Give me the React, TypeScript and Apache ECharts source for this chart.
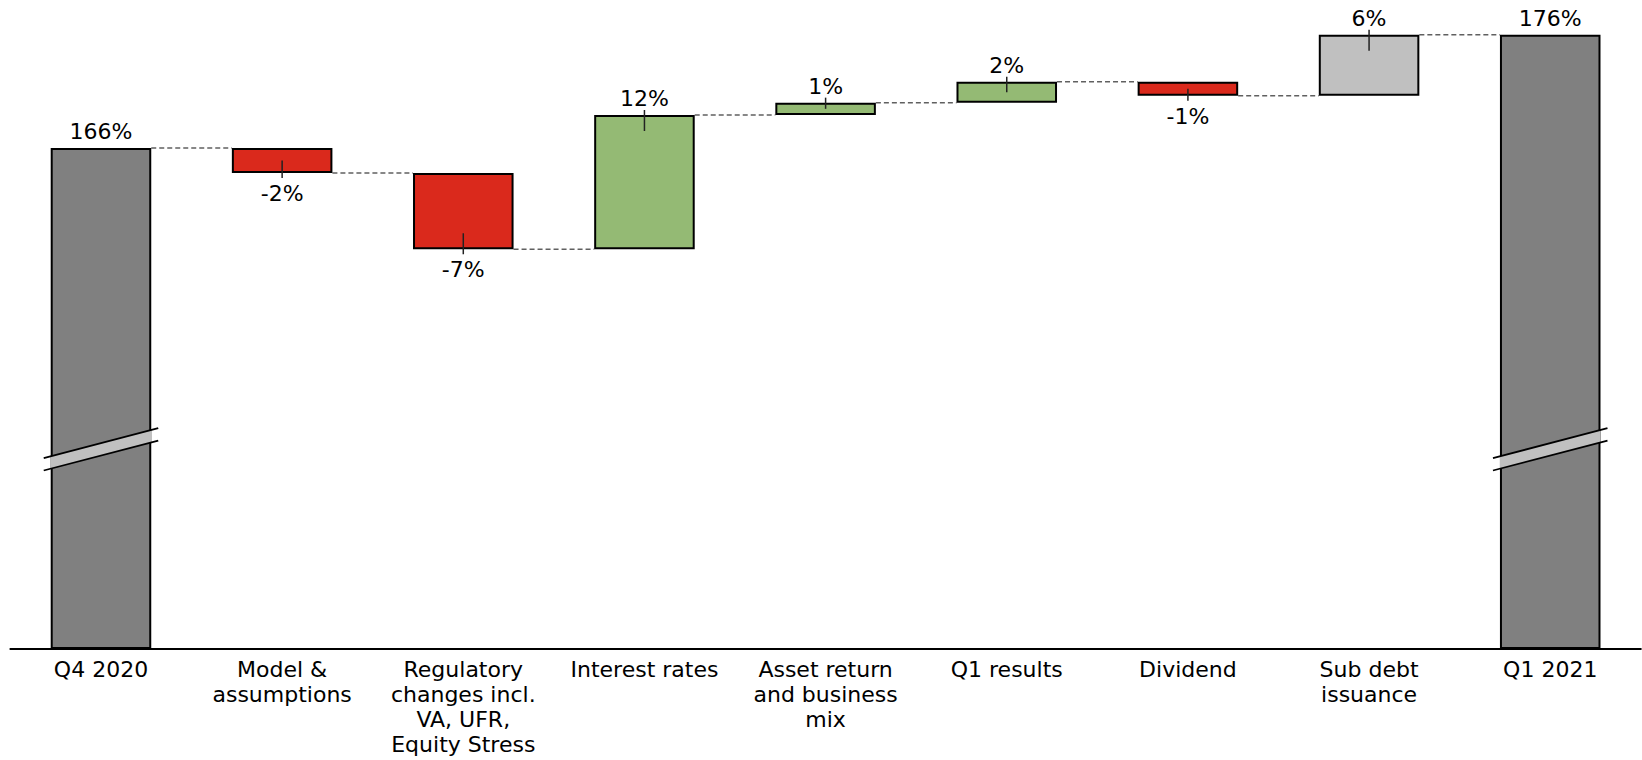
import React, { useEffect, useRef } from "react";
import * as echarts from "echarts";

const categories = [
  "Q4 2020",
  "Model &\nassumptions",
  "Regulatory\nchanges incl.\nVA, UFR,\nEquity Stress",
  "Interest rates",
  "Asset return\nand business\nmix",
  "Q1 results",
  "Dividend",
  "Sub debt\nissuance",
  "Q1 2021",
];
const startTotal = 166;
const endTotal = 176;
const deltas = [-2.21, -6.73, 11.85, 1.09, 1.85, -1.24, 5.38];
const valueLabels = ["166%", "-2%", "-7%", "12%", "1%", "2%", "-1%", "6%", "176%"];
const barKinds = ["total", "delta", "delta", "delta", "delta", "delta", "delta", "issue", "total"];
const axisMin = 121.78;
const axisMax = 179.06;
const breakValue = 139.4;

const COLORS: Record<string, string> = {
  total: "#808080",
  up: "#94BA74",
  down: "#DA291C",
  issue: "#C0C0C0",
};
const FONT = "DejaVu Sans";
const BAR_RATIO = 0.555;

export default function App() {
  const ref = useRef<HTMLDivElement>(null);
  useEffect(() => {
    if (!ref.current) return;
    const chart = echarts.init(ref.current, undefined, { renderer: "svg" });

    const starts: number[] = [];
    const ends: number[] = [];
    let level = startTotal;
    categories.forEach((_, i) => {
      if (i === 0) {
        starts.push(axisMin);
        ends.push(startTotal);
      } else if (i === categories.length - 1) {
        starts.push(axisMin);
        ends.push(endTotal);
      } else {
        const d = deltas[i - 1];
        starts.push(level);
        level = level + d;
        ends.push(level);
      }
    });

    const baseData = categories.map((_, i) => Math.min(starts[i], ends[i]));
    const visData = categories.map((_, i) => {
      const kind = barKinds[i];
      const isNeg = ends[i] < starts[i];
      const color =
        kind === "total" ? COLORS.total : kind === "issue" ? COLORS.issue : isNeg ? COLORS.down : COLORS.up;
      return {
        value: Math.abs(ends[i] - starts[i]),
        itemStyle: { color, borderColor: "#000", borderWidth: 2 },
        label: {
          show: true,
          position: isNeg ? "bottom" : "top",
          distance: isNeg ? 8 : 4,
          formatter: valueLabels[i],
        },
      };
    });

    const connectorData = categories.slice(0, -1).map((_, i) => [i, ends[i]]);
    const tickData = categories
      .map((_, i) => [i, starts[i], ends[i]])
      .filter((_, i) => barKinds[i] !== "total");
    const breakData = categories
      .map((_, i) => [i, breakValue])
      .filter((_, i) => barKinds[i] === "total");

    chart.setOption({
      animation: false,
      grid: { left: 10.4, right: 1.2, top: 0, bottom: 111, containLabel: false },
      xAxis: {
        type: "category",
        data: categories,
        axisLine: { lineStyle: { color: "#000", width: 2 } },
        axisTick: { show: false },
        axisLabel: {
          interval: 0,
          color: "#000",
          fontFamily: FONT,
          fontSize: 22,
          lineHeight: 25,
          margin: 8,
          align: "center",
        },
        splitLine: { show: false },
      },
      yAxis: {
        type: "value",
        min: axisMin,
        max: axisMax,
        show: false,
        splitLine: { show: false },
      },
      series: [
        {
          type: "bar",
          stack: "wf",
          barWidth: BAR_RATIO * 100 + "%",
          data: baseData,
          itemStyle: { color: "transparent" },
          silent: true,
          z: 2,
        },
        {
          type: "bar",
          stack: "wf",
          barWidth: BAR_RATIO * 100 + "%",
          data: visData,
          label: { color: "#000", fontFamily: FONT, fontSize: 22, lineHeight: 25 },
          z: 3,
        },
        {
          type: "custom",
          data: connectorData,
          encode: { x: 0, y: 1 },
          z: 1,
          renderItem: (params: any, api: any) => {
            const i = api.value(0);
            const v = api.value(1);
            const p0 = api.coord([i, v]);
            const p1 = api.coord([i + 1, v]);
            const bw = api.size([1, 0])[0] * BAR_RATIO;
            return {
              type: "line",
              shape: { x1: p0[0] + bw / 2, y1: p0[1], x2: p1[0] - bw / 2, y2: p0[1] },
              style: { stroke: "#606060", lineWidth: 1.5, lineDash: [5, 3] },
            };
          },
        },
        {
          type: "custom",
          data: tickData,
          encode: { x: 0, y: 2 },
          z: 5,
          renderItem: (params: any, api: any) => {
            const i = api.value(0);
            const s = api.value(1);
            const e = api.value(2);
            const p0 = api.coord([i, s]);
            const p1 = api.coord([i, e]);
            const h = Math.abs(p1[1] - p0[1]);
            const dir = e > s ? -1 : 1;
            const inside = Math.min(h / 2, 16);
            return {
              type: "line",
              shape: { x1: p1[0], y1: p1[1] + dir * 5, x2: p1[0], y2: p1[1] - dir * inside },
              style: { stroke: "#222", lineWidth: 1.5 },
            };
          },
        },
        {
          type: "custom",
          data: breakData,
          encode: { x: 0, y: 1 },
          z: 6,
          renderItem: (params: any, api: any) => {
            const i = api.value(0);
            const v = api.value(1);
            const c = api.coord([i, v]);
            const bw = api.size([1, 0])[0] * BAR_RATIO;
            const slope = -30 / 115;
            const gap = 6.2;
            const ext = bw / 2 + 7;
            const half = bw / 2;
            const y = (dx: number, off: number) => c[1] + off + slope * dx;
            return {
              type: "group",
              children: [
                {
                  type: "polygon",
                  shape: {
                    points: [
                      [c[0] - half, y(-half, -gap)],
                      [c[0] + half, y(half, -gap)],
                      [c[0] + half, y(half, gap)],
                      [c[0] - half, y(-half, gap)],
                    ],
                  },
                  style: { fill: "#C0C0C0" },
                },
                {
                  type: "line",
                  shape: { x1: c[0] - ext, y1: y(-ext, -gap), x2: c[0] + ext, y2: y(ext, -gap) },
                  style: { stroke: "#000", lineWidth: 1.8 },
                },
                {
                  type: "line",
                  shape: { x1: c[0] - ext, y1: y(-ext, gap), x2: c[0] + ext, y2: y(ext, gap) },
                  style: { stroke: "#000", lineWidth: 1.8 },
                },
              ],
            };
          },
        },
      ],
    });
    return () => chart.dispose();
  }, []);
  return (
    <div
      ref={ref}
      style={{ position: "fixed", left: 0, top: 0, width: 1642, height: 760, background: "#fff" }}
    />
  );
}
